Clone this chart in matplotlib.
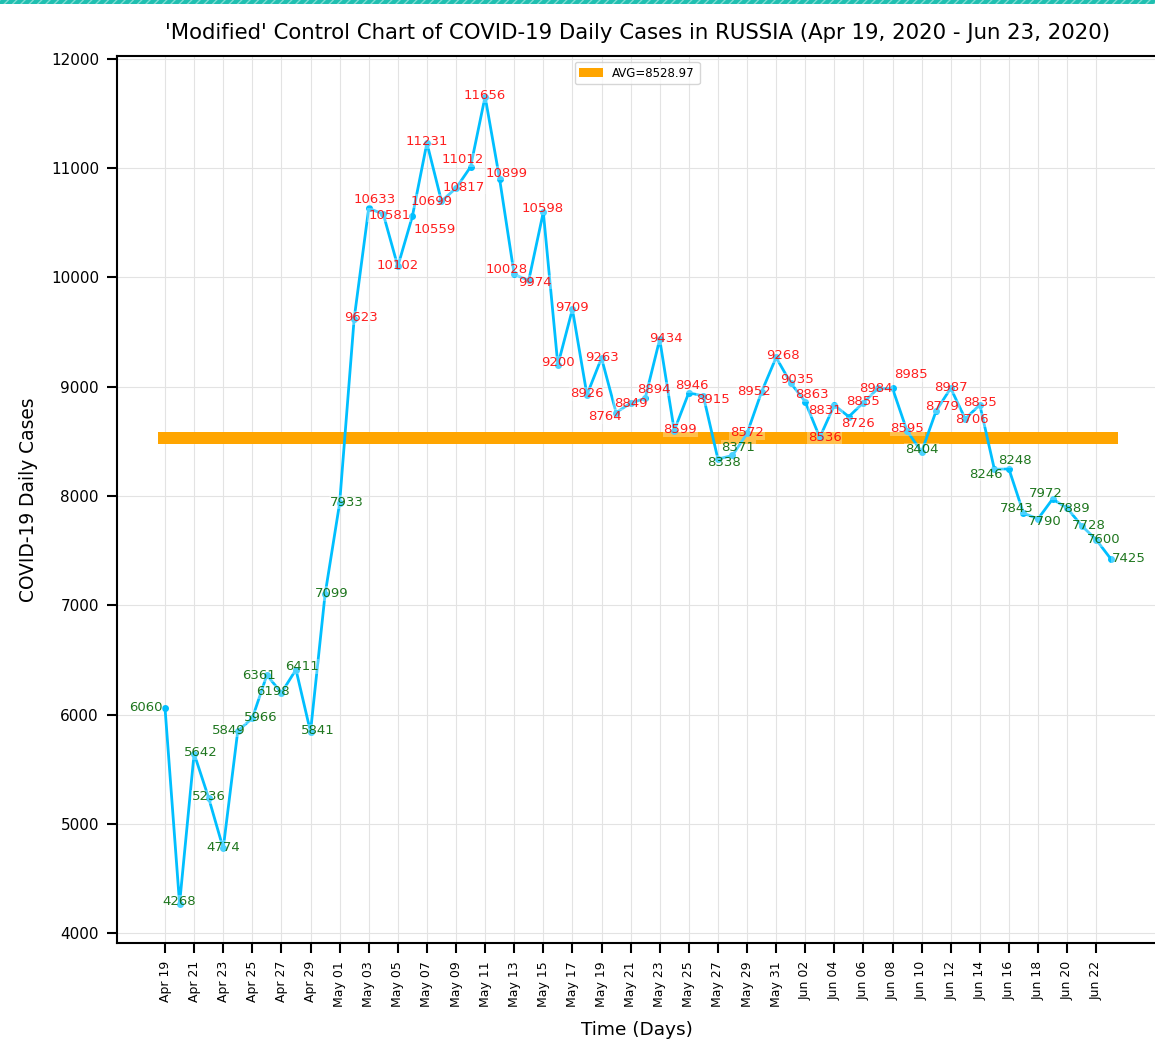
import numpy as np
import pandas as pd
import matplotlib
matplotlib.use("Agg")
import matplotlib.pyplot as plt
from matplotlib.patches import Rectangle

# daily new cases, Apr 19 - Jun 23 2020
dates = pd.date_range("2020-04-19", "2020-06-23", freq="D")
cases = [
    6060, 4268, 5642, 5236, 4774, 5849, 5966, 6361, 6198, 6411, 5841, 7099,
    7933, 9623, 10633, 10581, 10102, 10559, 11231, 10699, 10817, 11012, 11656,
    10899, 10028, 9974, 10598, 9200, 9709, 8926, 9263, 8764, 8849, 8894, 9434,
    8599, 8946, 8915, 8338, 8371, 8572, 8952, 9268,
    9035, 8863, 8536, 8831, 8726, 8855, 8984, 8985, 8595, 8404, 8779, 8987,
    8706, 8835, 8246, 8248, 7843, 7790, 7972, 7889, 7728, 7600, 7425,
]
avg_value = 8528.97
tick_labels = [d.strftime("%b %d") for d in dates[::2]]

# label offsets in pixels (dx right, dy down), to keep labels apart
label_offsets = [
    (-19, 0), (0, -2), (7, -1), (0, -1), (0, -1), (-9, -1), (8, -1), (-8, 0),
    (-8, -1), (6, -3), (7, -1), (7, -1),
    (7, -1), (7, -1), (6, -9), (6, 1), (0, -1), (22, 13), (0, -1), (-10, 0),
    (8, -1), (-8, -7), (0, -1), (7, -6), (-8, -5), (6, 2), (-1, -4), (0, -2),
    (0, -2), (0, -1), (0, -1), (-11, 4), (0, 0), (9, -9), (6, -1), (6, -1),
    (3, -7), (10, 3), (6, 3), (6, -8), (0, -1), (-8, 0), (7, -2),
    (6, -3), (7, -7), (5, 0), (-9, 5), (9, 7), (0, -1), (-2, 0), (18, -14),
    (0, -2), (0, -2), (6, -4), (0, -1), (7, 1), (0, -2), (-8, 5), (6, -8),
    (-7, -5), (7, 3), (-7, -6), (7, 0), (7, 0), (7, 0), (18, 0),
]

x = np.arange(len(dates))

fig = plt.figure(figsize=(11.55, 10.53), dpi=100)
ax = fig.add_axes([0.1013, 0.1045, 0.9007, 0.8423])

# teal striped strip along the top edge
strip = Rectangle((0, 0.9962), 1, 0.0038, transform=fig.transFigure,
                  facecolor="#1fbfb0", edgecolor="#7fdcd2", hatch="////",
                  linewidth=0, zorder=5)
fig.patches.append(strip)

ax.bar(x, 110, bottom=avg_value - 55, width=1.0, color="orange",
       label=f"AVG={avg_value:.2f}", zorder=2)
ax.plot(x, cases, color="deepskyblue", linewidth=2, marker="o",
        markersize=4, zorder=3)

for xi, val, (dx, dy) in zip(x, cases, label_offsets):
    col = "red" if val > avg_value else "darkgreen"
    ax.annotate(str(val), (xi, val), xytext=(dx, -dy),
                textcoords="offset pixels", ha="center", va="center",
                fontsize=9.5, color=col, alpha=0.88, zorder=4,
                bbox=dict(facecolor="white", alpha=0.3, edgecolor="none",
                          pad=0.5))

ax.set_xlim(-3.3, 68.2)
ax.set_ylim(3909, 12027)
ax.set_xticks(x[::2])
ax.set_xticklabels(tick_labels, rotation=90, fontsize=9)
ax.set_yticks(np.arange(4000, 12001, 1000))
ax.tick_params(axis="y", labelsize=11)
ax.tick_params(direction="out", length=7, width=1.5, pad=6)
for sp in ax.spines.values():
    sp.set_linewidth(1.5)

ax.grid(True, color="#e3e3e3", linewidth=0.8, zorder=0)
ax.set_axisbelow(True)

ax.set_title("'Modified' Control Chart of COVID-19 Daily Cases in RUSSIA "
             "(Apr 19, 2020 - Jun 23, 2020)", fontsize=15.3, pad=12)
ax.set_xlabel("Time (Days)", fontsize=13.3, labelpad=10)
ax.set_ylabel("COVID-19 Daily Cases", fontsize=13.4, labelpad=9)
ax.legend(loc="upper center", fontsize=8.5)

fig.savefig("out.png", dpi=100)
